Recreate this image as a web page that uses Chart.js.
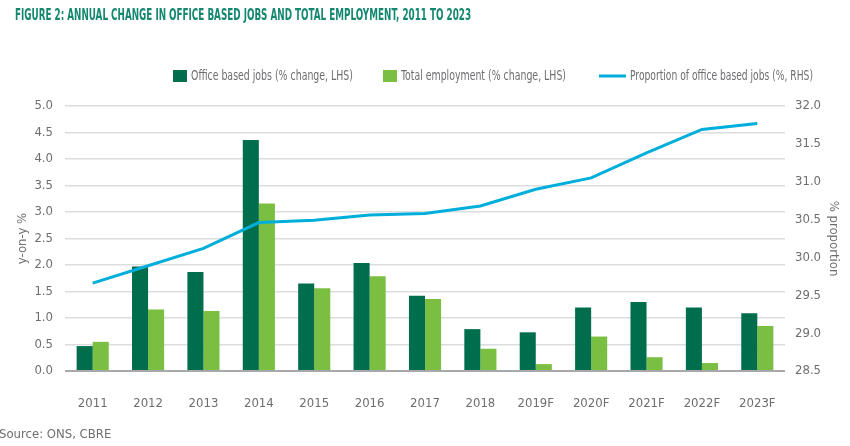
<!DOCTYPE html>
<html>
<head>
<meta charset="utf-8">
<script src="https://cdn.jsdelivr.net/npm/chart.js@4/dist/chart.umd.min.js"></script>
<style>
  html, body { margin: 0; padding: 0; background: #fff; }
  #wrap { position: relative; width: 850px; height: 446px; }
</style>
</head>
<body>
<div id="wrap"><canvas id="chart" width="850" height="446"></canvas></div>
<script>
const years = ["2011", "2012", "2013", "2014", "2015", "2016", "2017", "2018", "2019F", "2020F", "2021F", "2022F", "2023F"];
const officeJobs = [0.47, 1.97, 1.87, 4.36, 1.65, 2.04, 1.42, 0.79, 0.73, 1.20, 1.30, 1.20, 1.09];
const totalEmployment = [0.55, 1.16, 1.13, 3.16, 1.56, 1.79, 1.36, 0.42, 0.13, 0.65, 0.26, 0.15, 0.85];
const officeProportion = [29.66, 29.89, 30.12, 30.46, 30.49, 30.56, 30.58, 30.68, 30.90, 31.05, 31.38, 31.69, 31.77];

const FONT = "'Liberation Sans Narrow', 'DejaVu Sans Condensed', 'Liberation Sans', sans-serif";
const GREY = "#6d6e71";
const DARK = "#006e4c";
const LIGHT = "#7bbf42";
const BLUE = "#00aedb";

// title, legend and source note drawn straight onto the canvas
const decorations = {
  id: "decorations",
  afterDraw(chart) {
    const ctx = chart.ctx;
    ctx.save();
    ctx.textBaseline = "middle";
    ctx.textAlign = "left";
    ctx.fillStyle = "#138770";
    ctx.font = "bold 16px " + FONT;
    ctx.fillText("FIGURE 2: ANNUAL CHANGE IN OFFICE BASED JOBS AND TOTAL EMPLOYMENT, 2011 TO 2023", 15, 16, 456);

    ctx.font = "14px " + FONT;
    const items = [
      { ds: 0, x: 173, w: 14, text: 162 },
      { ds: 1, x: 383, w: 14, text: 165 },
      { ds: 2, x: 599, w: 27, text: 183 },
    ];
    const y = 76;
    items.forEach((it) => {
      const ds = chart.data.datasets[it.ds];
      if (ds.type === "line") {
        ctx.strokeStyle = ds.borderColor;
        ctx.lineWidth = 3;
        ctx.beginPath();
        ctx.moveTo(it.x, y);
        ctx.lineTo(it.x + it.w, y);
        ctx.stroke();
      } else {
        ctx.fillStyle = ds.backgroundColor;
        ctx.fillRect(it.x, y - 6, it.w, 12);
      }
      ctx.fillStyle = GREY;
      ctx.fillText(ds.label, it.x + it.w + 4, y, it.text);
    });

    ctx.fillStyle = GREY;
    ctx.font = "13px " + FONT;
    ctx.fillText("Source: ONS, CBRE", -1, 435, 113);
    ctx.restore();
  },
};

new Chart(document.getElementById("chart"), {
  data: {
    labels: years,
    datasets: [
      {
        type: "bar",
        label: "Office based jobs (% change, LHS)",
        data: officeJobs,
        backgroundColor: DARK,
        yAxisID: "y",
        order: 1,
        categoryPercentage: 0.58,
        barPercentage: 1.0,
      },
      {
        type: "bar",
        label: "Total employment (% change, LHS)",
        data: totalEmployment,
        backgroundColor: LIGHT,
        yAxisID: "y",
        order: 1,
        categoryPercentage: 0.58,
        barPercentage: 1.0,
      },
      {
        type: "line",
        label: "Proportion of office based jobs (%, RHS)",
        data: officeProportion,
        borderColor: BLUE,
        backgroundColor: BLUE,
        borderWidth: 3,
        pointRadius: 0,
        tension: 0,
        yAxisID: "y1",
        order: 0,
      },
    ],
  },
  options: {
    responsive: false,
    animation: false,
    layout: { padding: { top: 106, bottom: 0, left: 0, right: 0 } },
    plugins: {
      legend: { display: false },
      tooltip: { enabled: false },
    },
    scales: {
      x: {
        grid: { display: false },
        border: { display: false },
        ticks: { color: GREY, font: { family: FONT, size: 13 }, padding: 17 },
        afterFit: (s) => { s.height = 75; },
      },
      y: {
        position: "left",
        min: 0,
        max: 5,
        border: { display: false },
        grid: {
          drawTicks: false,
          lineWidth: (c) => (c.tick.value === 0 ? 2 : 1.5),
          color: (c) => (c.tick.value === 0 ? "#a7a8aa" : "#dcdddf"),
        },
        ticks: {
          stepSize: 0.5,
          padding: 12,
          color: GREY,
          font: { family: FONT, size: 13 },
          callback: (v) => Number(v).toFixed(1),
        },
        title: {
          display: true,
          text: "y-on-y %",
          color: GREY,
          font: { family: FONT, size: 13 },
          padding: { top: 15, bottom: 0 },
        },
        afterFit: (s) => { s.width = 65; },
      },
      y1: {
        position: "right",
        min: 28.5,
        max: 32,
        border: { display: false },
        grid: { display: false, drawTicks: false },
        ticks: {
          stepSize: 0.5,
          padding: 10,
          color: GREY,
          font: { family: FONT, size: 13 },
          callback: (v) => Number(v).toFixed(1),
        },
        title: {
          display: true,
          text: "% proportion",
          color: GREY,
          font: { family: FONT, size: 13 },
          padding: { top: 9, bottom: 0 },
        },
        afterFit: (s) => { s.width = 65; },
      },
    },
  },
  plugins: [decorations],
});
</script>
</body>
</html>
